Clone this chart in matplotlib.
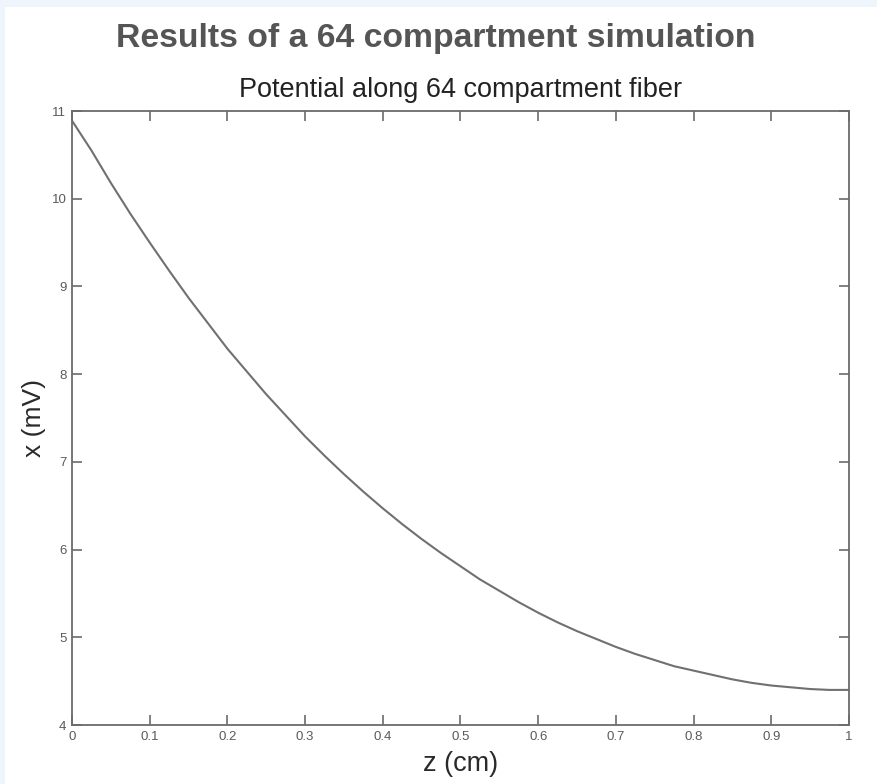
import matplotlib
matplotlib.use("Agg")
import matplotlib.pyplot as plt
from matplotlib.patches import Rectangle

# Data
z_cm = [0.0, 0.025, 0.05, 0.075, 0.1, 0.125, 0.15, 0.175, 0.2, 0.225,
        0.25, 0.275, 0.3, 0.325, 0.35, 0.375, 0.4, 0.425, 0.45, 0.475,
        0.5, 0.525, 0.55, 0.575, 0.6, 0.625, 0.65, 0.675, 0.7, 0.725,
        0.75, 0.775, 0.8, 0.825, 0.85, 0.875, 0.9, 0.925, 0.95, 0.975, 1.0]
potential_mv = [10.89, 10.55, 10.18, 9.83, 9.50, 9.18, 8.87, 8.58, 8.29, 8.03,
                7.77, 7.53, 7.29, 7.07, 6.86, 6.66, 6.47, 6.29, 6.12, 5.96,
                5.81, 5.66, 5.53, 5.40, 5.28, 5.17, 5.07, 4.98, 4.89, 4.81,
                4.74, 4.67, 4.62, 4.57, 4.52, 4.48, 4.45, 4.43, 4.41, 4.40, 4.40]
x_ticks = [0, 0.1, 0.2, 0.3, 0.4, 0.5, 0.6, 0.7, 0.8, 0.9, 1]
x_tick_labels = ["0", "0.1", "0.2", "0.3", "0.4", "0.5", "0.6", "0.7", "0.8", "0.9", "1"]
y_ticks = [4, 5, 6, 7, 8, 9, 10, 11]

plt.rcParams['font.family'] = ['Liberation Sans', 'DejaVu Sans']

W, H = 878, 784
fig = plt.figure(figsize=(W / 100, H / 100), dpi=100)
fig.patch.set_facecolor("white")
# light blue frame strips at top and left
fig.add_artist(Rectangle((0, 1 - 7 / H), 1, 7 / H, transform=fig.transFigure,
                         facecolor="#eef5fd", edgecolor="none", zorder=0))
fig.add_artist(Rectangle((0, 0), 5 / W, 1, transform=fig.transFigure,
                         facecolor="#eef5fd", edgecolor="none", zorder=0))

left, right, top, bottom = 72, 849, 111, 725
ax = fig.add_axes([left / W, (H - bottom) / H, (right - left) / W, (bottom - top) / H])

axcol = "#6b6b6b"
ax.plot(z_cm, potential_mv, color="#707070", lw=1.5)
ax.set_xlim(0, 1)
ax.set_ylim(4, 11)
ax.set_xticks(x_ticks)
ax.set_xticklabels(x_tick_labels)
ax.set_yticks(y_ticks)
for s in ax.spines.values():
    s.set_color(axcol)
    s.set_linewidth(1.3)
ax.tick_params(direction="in", length=7.5, width=1.2, color=axcol,
               top=True, right=True, labelsize=9.5, labelcolor="#5a5a5a", pad=4)

ax.set_xlabel("z (cm)", fontsize=19.5, color="#2a2a2a", labelpad=6)
ax.set_ylabel("x (mV)", fontsize=19, color="#2a2a2a", labelpad=4)
ax.set_title("Potential along 64 compartment fiber", fontsize=19.5, color="#222222", pad=10)

fig.text(436 / W, 1 - 38 / H, "Results of a 64 compartment simulation",
         fontsize=24.3, fontweight="bold", color="#555555", ha="center", va="center")

fig.savefig("out.png", dpi=100)
